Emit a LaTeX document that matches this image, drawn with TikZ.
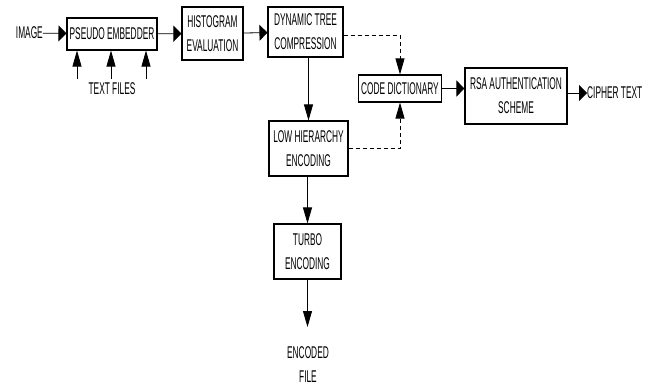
\documentclass[tikz,border=0pt]{standalone}
\usepackage{fontspec}
\setmainfont{Liberation Sans}[FakeStretch=0.49]
\usepackage{tikz}
\usetikzlibrary{arrows.meta}

\tikzset{
  blk/.style={draw, line width=1.1pt, inner sep=0pt, align=center,
    font=\fontsize{17}{24}\selectfont},
  lbl/.style={inner sep=0pt, align=center, font=\fontsize{17}{24}\selectfont},
  harr/.style={line width=0.8pt, -{Triangle[length=8pt,width=16pt]}},
  varr/.style={line width=0.8pt, -{Triangle[length=16pt,width=9pt]}},
}

\begin{document}
\begin{tikzpicture}[x=1pt, y=-1pt]
    \useasboundingbox (0,0) rectangle (657,386);
    \node[blk, minimum width=90pt, minimum height=32pt] (pseudo) at (112,34) {PSEUDO EMBEDDER};
    \node[blk, minimum width=61pt, minimum height=53pt] (hist) at (212.5,33.5) {HISTOGRAM\\EVALUATION};
    \node[blk, minimum width=75pt, minimum height=50pt] (dtc) at (305.5,32) {DYNAMIC TREE\\COMPRESSION};
    \node[blk, minimum width=83pt, minimum height=27pt] (code) at (400,88.5) {CODE DICTIONARY};
    \node[blk, minimum width=102pt, minimum height=56pt] (rsa) at (516,96) {RSA AUTHENTICATION\\SCHEME};
    \node[blk, minimum width=79pt, minimum height=55pt] (low) at (308.5,148.5) {LOW HIERARCHY\\ENCODING};
    \node[blk, minimum width=67pt, minimum height=55pt] (turbo) at (307.5,251.5) {TURBO\\ENCODING};
    \node[lbl, anchor=east] (img) at (43,33) {IMAGE};
    \node[lbl] (files) at (112,89) {TEXT FILES};
    \node[lbl, anchor=west] (cipher) at (587,93) {CIPHER TEXT};
    \node[lbl] (encfile) at (308,365) {ENCODED\\FILE};
    \coordinate (tf1) at (77,79);
    \coordinate (tf2) at (111,79);
    \coordinate (tf3) at (146,79);
    \coordinate (out) at (307.5,327);

    \draw[harr] (img) -- (pseudo);
    \draw[varr] (tf1) -- (tf1 |- pseudo.south);
    \draw[varr] (tf2) -- (tf2 |- pseudo.south);
    \draw[varr] (tf3) -- (tf3 |- pseudo.south);
    \draw[harr] (pseudo) -- (hist);
    \draw[harr] (hist) -- (dtc);
    \draw[varr] (dtc.south -| low.north) -- (low.north);
    \draw[varr, dash pattern=on 4pt off 3pt] ([yshift=-3pt]dtc.east) -| (code.north);
    \draw[varr, dash pattern=on 4pt off 3pt] (low.east) -| (code.south);
    \draw[harr] (code.east) -- (code.east -| rsa.west);
    \draw[harr] (rsa.east |- cipher.west) -- (cipher.west);
    \draw[varr] (low.south -| turbo.north) -- (turbo.north);
    \draw[varr] (turbo.south) -- (out);
\end{tikzpicture}
\end{document}
